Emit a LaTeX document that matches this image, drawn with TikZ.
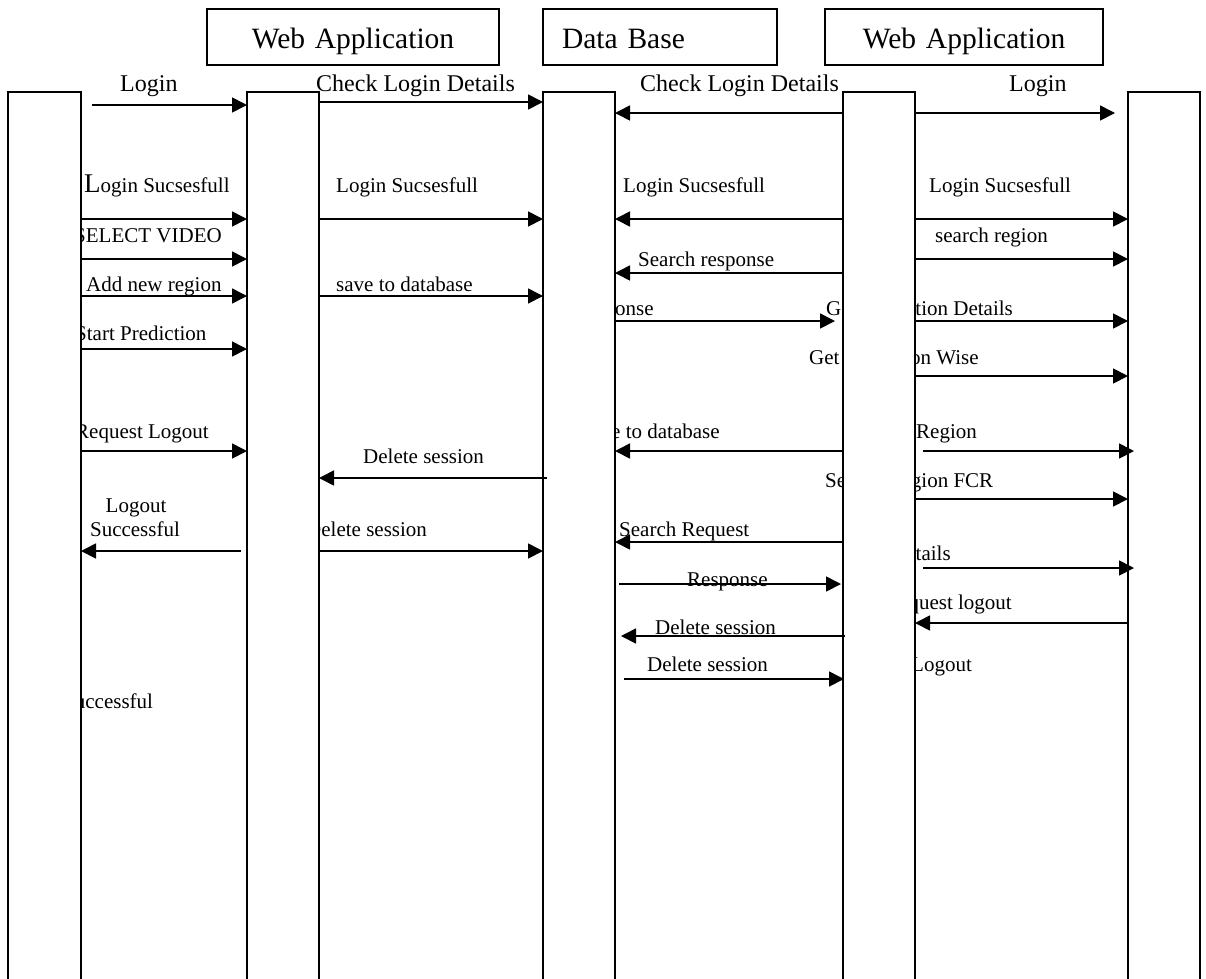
\documentclass[tikz,border=0pt]{standalone}
\usepackage{fontspec}
\setmainfont{Liberation Serif}
\usetikzlibrary{arrows.meta}
\begin{document}
\begin{tikzpicture}[x=1pt,y=-1pt,
  lifeline/.style={draw, fill=white, line width=1.6pt, outer sep=0pt, inner sep=0pt,
    minimum height=900pt, anchor=north west},
  header/.style={draw, line width=1.6pt, outer sep=0pt, inner sep=0pt, minimum height=56pt,
    anchor=north west, font=\fontsize{29.5}{30}\selectfont, text height=22pt, text depth=0pt},
  msg/.style={line width=1.7pt, -{Triangle[length=15pt,width=15pt]}},
  lbl/.style={anchor=base west, inner sep=0pt, font=\fontsize{21}{21}\selectfont},
  toplbl/.style={lbl, font=\fontsize{24}{24}\selectfont}]

\useasboundingbox (0,0) rectangle (1206,978);

% participant headers
\node[header, minimum width=292pt, text width=292pt, align=center] (hweb1) at (207,9) {Web Application};
\node[header, minimum width=234pt, inner xsep=19pt, text width=196pt, align=left] (hdb) at (543,9) {Data Base};
\node[header, minimum width=278pt, text width=278pt, align=center] (hweb2) at (825,9) {Web Application};

% message labels (drawn first so the lifelines cover their hidden parts)
\node[toplbl] (t1) at (120,91) {Login};
\node[toplbl] (t2) at (316,91) {Check Login Details};
\node[toplbl] (t3) at (640,91) {Check Login Details};
\node[toplbl] (t4) at (1009,91) {Login};

\node[lbl] (s1) at (84,192) {{\fontsize{27}{27}\selectfont L}ogin Sucsesfull};
\node[lbl] (s2) at (336,192) {Login Sucsesfull};
\node[lbl] (s3) at (623,192) {Login Sucsesfull};
\node[lbl] (s4) at (929,192) {Login Sucsesfull};

\node[lbl] (v1) at (74,242) {SELECT VIDEO};
\node[lbl] (r1) at (935,242) {search region};
\node[lbl] (r2) at (638,266) {Search response};
\node[lbl] (a1) at (86,291) {Add new region};
\node[lbl] (a2) at (336,291) {save to database};
\node[lbl] (r3) at (573,315) {Response};
\node[lbl] (g1) at (826,315) {Get Prediction Details};
\node[lbl] (p1) at (75,340) {Start Prediction};
\node[lbl] (g2) at (809,364) {Get Prediction Wise};
\node[lbl] (q1) at (75,438) {Request Logout};
\node[lbl] (a3) at (583,438) {save to database};
\node[lbl] (g3) at (916,438) {Region};
\node[lbl] (d1) at (363,463) {Delete session};
\node[lbl] (f1) at (825,487) {Search Region FCR};
\node[lbl, anchor=base] (o1) at (136,512) {Logout};
\node[lbl, anchor=base] (o2) at (135,536) {Successful};
\node[lbl] (d2) at (306,536) {Delete session};
\node[lbl] (q2) at (619,536) {Search Request};
\node[lbl] (e1) at (891,560) {Details};
\node[lbl] (r4) at (687,586) {Response};
\node[lbl] (q3) at (885,609) {Request logout};
\node[lbl] (d3) at (655,634) {Delete session};
\node[lbl] (d4) at (647,671) {Delete session};
\node[lbl] (o3) at (911,671) {Logout};
\node[lbl] (o4) at (63,708) {Successful};

% lifelines
\node[lifeline, minimum width=73pt] (b1) at (8,92) {};
\node[lifeline, minimum width=72pt] (b2) at (247,92) {};
\node[lifeline, minimum width=72pt] (b3) at (543,92) {};
\node[lifeline, minimum width=72pt] (b4) at (843,92) {};
\node[lifeline, minimum width=72pt] (b5) at (1128,92) {};

% messages between the first two lifelines
\draw[msg] (92,105) -- (b2.west |- 0,105);
\draw[msg] (b1.east |- 0,219) -- (b2.west |- 0,219);
\draw[msg] (b1.east |- 0,259) -- (b2.west |- 0,259);
\draw[msg] (b1.east |- 0,296) -- (b2.west |- 0,296);
\draw[msg] (b1.east |- 0,349) -- (b2.west |- 0,349);
\draw[msg] (b1.east |- 0,451) -- (b2.west |- 0,451);
\draw[msg] (241,551) -- (b1.east |- 0,551);

% web application <-> data base
\draw[msg] (b2.east |- 0,102) -- (b3.west |- 0,102);
\draw[msg] (b2.east |- 0,219) -- (b3.west |- 0,219);
\draw[msg] (b2.east |- 0,296) -- (b3.west |- 0,296);
\draw[msg] (547,478) -- (b2.east |- 0,478);
\draw[msg] (b2.east |- 0,551) -- (b3.west |- 0,551);

% data base <-> second web application
\draw[msg] (b4.west |- 0,113) -- (b3.east |- 0,113);
\draw[msg] (b4.west |- 0,219) -- (b3.east |- 0,219);
\draw[msg] (b4.west |- 0,273) -- (b3.east |- 0,273);
\draw[msg] (b3.east |- 0,321) -- (835,321);
\draw[msg] (b4.west |- 0,451) -- (b3.east |- 0,451);
\draw[msg] (b4.west |- 0,542) -- (b3.east |- 0,542);
\draw[msg] (619,584) -- (841,584);
\draw[msg] (845,636) -- (621,636);
\draw[msg] (624,679) -- (844,679);

% second web application <-> last lifeline
\draw[msg] (b4.east |- 0,113) -- (1115,113);
\draw[msg] (b4.east |- 0,219) -- (b5.west |- 0,219);
\draw[msg] (b4.east |- 0,259) -- (b5.west |- 0,259);
\draw[msg] (b4.east |- 0,321) -- (b5.west |- 0,321);
\draw[msg] (b4.east |- 0,376) -- (b5.west |- 0,376);
\draw[msg] (923,451) -- (1134,451);
\draw[msg] (b4.east |- 0,499) -- (b5.west |- 0,499);
\draw[msg] (923,568) -- (1134,568);
\draw[msg] (b5.west |- 0,623) -- (b4.east |- 0,623);
\end{tikzpicture}
\end{document}
